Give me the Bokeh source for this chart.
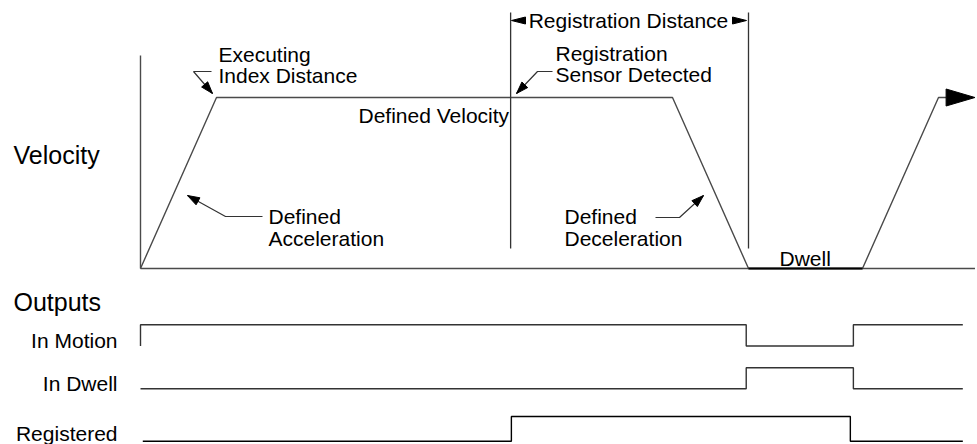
from bokeh.plotting import figure
from bokeh.models import Range1d
from bokeh.core.properties import value
from bokeh.embed import file_html
from bokeh.resources import INLINE

# ---------------- data ----------------
# Velocity profile: time in units of the acceleration time, velocity as a fraction of the defined velocity
vel_time = [0.0, 1.0, 7.0, 8.0, 9.5, 10.5, 10.6]
vel_value = [0.0, 1.0, 1.0, 0.0, 0.0, 1.0, 1.0]
arrow_tip_time = 10.98
dwell_time = [8.0, 9.5]
sensor_time = 4.87          # registration sensor detected
stop_time = 8.0             # end of registration distance

# Output signals (step traces, level 0 = off, 1 = on)
in_motion_time = [0.0, 0.0, 7.97, 9.38, 10.82]
in_motion_level = [0, 1, 0, 1, 1]
in_dwell_time = [0.0, 7.97, 9.38, 10.82]
in_dwell_level = [0, 1, 0, 0]
registered_time = [0.03, 4.88, 9.34, 10.82]
registered_level = [0, 1, 0, 0]

output_labels = ["In Motion", "In Dwell", "Registered"]

# ---------------- layout ----------------
W, H = 977, 444
PX_X = (0, 977)       # reference-pixel window shown by the frame
PX_Y = (0, 444)
T0, TS = 140, 76      # pixel of t=0, pixels per time unit
V0, VS = 268, 171     # pixel of v=0, pixels per unit velocity
ROWS = {"im": (345.5, 324.3), "id": (388.3, 367.3), "rg": (440.7, 416.0)}


def t_of(x):
    return (x - T0) / TS


def v_of(y):
    return (V0 - y) / VS


p = figure(width=W, height=H, output_backend="svg", toolbar_location=None,
           x_range=Range1d(t_of(PX_X[0]), t_of(PX_X[1])),
           y_range=Range1d(v_of(PX_Y[1]), v_of(PX_Y[0])),
           x_axis_type=None, y_axis_type=None, min_border=0,
           outline_line_color=None, background_fill_color="white",
           border_fill_color="white")
p.grid.visible = False
p.extra_x_ranges = {"px": Range1d(*PX_X)}
p.extra_y_ranges = {"px": Range1d(PX_Y[1], PX_Y[0])}
for key, (lo, hi) in ROWS.items():
    amp = lo - hi
    p.extra_y_ranges[key] = Range1d((lo - PX_Y[1]) / amp, (lo - PX_Y[0]) / amp)

FONT = value("Liberation Sans")
CURVE = "#4a4a4a"

# axes of the velocity diagram
p.segment(x0=[0], y0=[0], x1=[0], y1=[v_of(55)], line_color=CURVE, line_width=1.4)
p.segment(x0=[0], y0=[0], x1=[arrow_tip_time], y1=[0], line_color=CURVE, line_width=1.4)

# velocity profile
p.line(vel_time, vel_value, line_color=CURVE, line_width=1.4)
p.line(dwell_time, [0, 0], line_color="black", line_width=1.8)
p.patch([vel_time[-1], arrow_tip_time, vel_time[-1]],
        [vel_value[-1] + 8.5 / VS, vel_value[-1], vel_value[-1] - 8.5 / VS],
        fill_color="black", line_color="black")

# registration distance markers
p.segment(x0=[sensor_time, stop_time], y0=[v_of(248)] * 2,
          x1=[sensor_time, stop_time], y1=[v_of(12)] * 2,
          line_color="#333333", line_width=1.3)

# output traces
p.step(in_motion_time, in_motion_level, mode="after", y_range_name="im",
       line_color="#333333", line_width=1.4)
p.step(in_dwell_time, in_dwell_level, mode="after", y_range_name="id",
       line_color="#333333", line_width=1.4)
p.step(registered_time, registered_level, mode="after", y_range_name="rg",
       line_color="black", line_width=1.4)


# ---------------- annotations (reference pixel coordinates) ----------------
def head(tip, frm, length=12, half=4):
    (tx, ty), (fx, fy) = tip, frm
    dx, dy = tx - fx, ty - fy
    n = (dx * dx + dy * dy) ** 0.5
    ux, uy = dx / n, dy / n
    bx, by = tx - ux * length, ty - uy * length
    return [tx, bx - uy * half, bx + uy * half], [ty, by + ux * half, by - ux * half]


leaders = [
    [(211, 71), (193, 71), (212, 93)],
    [(552, 71), (537, 71), (516, 93)],
    [(262, 216), (225, 216), (187, 195)],
    [(655, 217), (679, 217), (703, 195)],
]
for pts in leaders:
    p.line([q[0] for q in pts], [q[1] for q in pts], x_range_name="px", y_range_name="px",
           line_color="#333333", line_width=1.2)
    hx, hy = head(pts[-1], pts[-2])
    p.patch(hx, hy, x_range_name="px", y_range_name="px", fill_color="black", line_color="black")
for tip, frm in [((511, 20), (525, 20)), ((746, 20), (730, 20))]:
    hx, hy = head(tip, frm, length=14, half=3.5)
    p.patch(hx, hy, x_range_name="px", y_range_name="px", fill_color="black", line_color="black")


def mid(baseline, size):
    # vertical centre of the em box for a given alphabetic baseline
    return baseline - 0.35 * size


ann_x = [218, 218, 358, 555, 555, 268, 268, 564, 564, 779, 628]
ann_base = [61, 82, 122, 60, 81, 223, 245, 223, 245, 265, 27]
ann_t = ["Executing", "Index Distance", "Defined Velocity", "Registration", "Sensor Detected",
         "Defined", "Acceleration", "Defined", "Deceleration", "Dwell", "Registration Distance"]
ann_a = ["left"] * 10 + ["center"]
p.text(x=ann_x, y=[mid(b, 21) for b in ann_base], text=ann_t, text_align=ann_a,
       x_range_name="px", y_range_name="px",
       text_font=FONT, text_font_size="21px", text_baseline="middle", text_color="black")

p.text(x=[13, 13], y=[mid(163, 25), mid(310, 25)], text=["Velocity", "Outputs"],
       x_range_name="px", y_range_name="px",
       text_font=FONT, text_font_size="25px", text_baseline="middle", text_color="black")
p.text(x=[117] * 3, y=[mid(b, 21) for b in [347, 390, 440]], text=output_labels,
       x_range_name="px", y_range_name="px",
       text_font=FONT, text_font_size="21px", text_align="right", text_baseline="middle",
       text_color="black")

open("out.html", "w").write(file_html(p, INLINE))
